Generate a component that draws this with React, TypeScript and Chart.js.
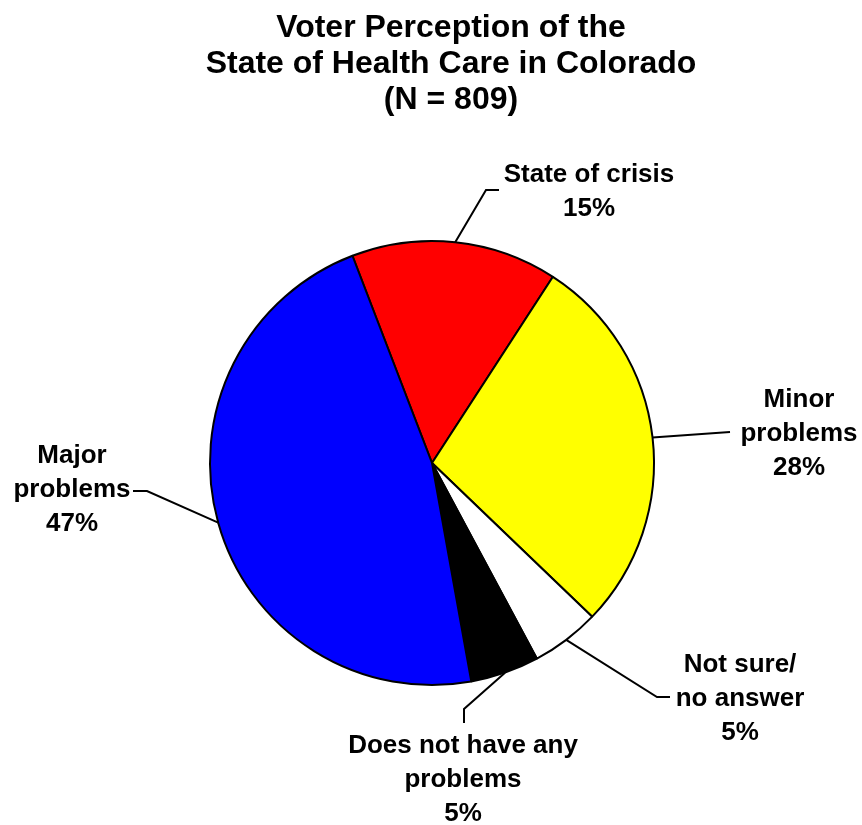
import React, { useEffect, useRef } from "react";
import { Chart, registerables } from "chart.js";

Chart.register(...registerables);

const titleLines = ["Voter Perception of the", "State of Health Care in Colorado", "(N = 809)"];
const categories = ["State of crisis", "Minor problems", "Not sure/ no answer", "Does not have any problems", "Major problems"];
const labelLines = [["State of crisis"], ["Minor", "problems"], ["Not sure/", "no answer"], ["Does not have any", "problems"], ["Major", "problems"]];
const values = [15, 28, 5, 5, 47];
const colors = ["#FF0000", "#FFFF00", "#FFFFFF", "#000000", "#0000FF"];

// layout for labels: text center x, first baseline y, leader path (elbow points after slice edge)
const labelLayout = [
  { x: 589, y: 182, path: [[486, 190], [499, 190]] },
  { x: 799, y: 407, path: [[730, 432]] },
  { x: 740, y: 672, path: [[657, 697], [670, 697]] },
  { x: 463, y: 753, path: [[464, 709], [464, 723]] },
  { x: 72, y: 463, path: [[147, 491], [133, 491]] },
];

const FONT = "bold 26px 'Liberation Sans', Arial, sans-serif";
const TITLE_FONT = "bold 32px 'Liberation Sans', Arial, sans-serif";
const LINE_H = 34;

const labelPlugin = {
  id: "labels",
  afterDraw(chart: any) {
    const ctx = chart.ctx;
    ctx.save();
    ctx.fillStyle = "#000";
    ctx.textAlign = "center";
    ctx.textBaseline = "alphabetic";
    ctx.font = TITLE_FONT;
    titleLines.forEach((t, i) => ctx.fillText(t, 451, 37 + i * 36));

    const meta = chart.getDatasetMeta(0);
    meta.data.forEach((arc: any, i: number) => {
      const p = arc.getProps(["x", "y", "startAngle", "endAngle", "outerRadius"], true);
      const mid = (p.startAngle + p.endAngle) / 2;
      const sx = p.x + Math.cos(mid) * p.outerRadius;
      const sy = p.y + Math.sin(mid) * p.outerRadius;
      const lay = labelLayout[i];
      ctx.strokeStyle = "#000";
      ctx.lineWidth = 2;
      ctx.beginPath();
      ctx.moveTo(sx, sy);
      lay.path.forEach(([px, py]) => ctx.lineTo(px, py));
      ctx.stroke();
      ctx.font = FONT;
      const lines = [...labelLines[i], values[i] + "%"];
      lines.forEach((t, j) => ctx.fillText(t, lay.x, lay.y + j * LINE_H));
    });
    ctx.restore();
  },
};

export default function App() {
  const ref = useRef<HTMLCanvasElement>(null);
  useEffect(() => {
    const chart = new Chart(ref.current!, {
      type: "pie",
      data: {
        labels: categories,
        datasets: [
          {
            data: values,
            backgroundColor: colors,
            borderColor: "#000",
            borderWidth: 2,
          },
        ],
      },
      options: {
        responsive: false,
        animation: false,
        rotation: -21,
        radius: 222,
        layout: { padding: { left: 200, right: 198, top: 231, bottom: 130 } },
        plugins: { legend: { display: false }, tooltip: { enabled: false }, title: { display: false } },
      },
      plugins: [labelPlugin],
    });
    return () => chart.destroy();
  }, []);
  return (
    <div style={{ position: "absolute", left: 0, top: 0, width: 862, height: 825, background: "#fff" }}>
      <canvas ref={ref} width={862} height={825} />
    </div>
  );
}
